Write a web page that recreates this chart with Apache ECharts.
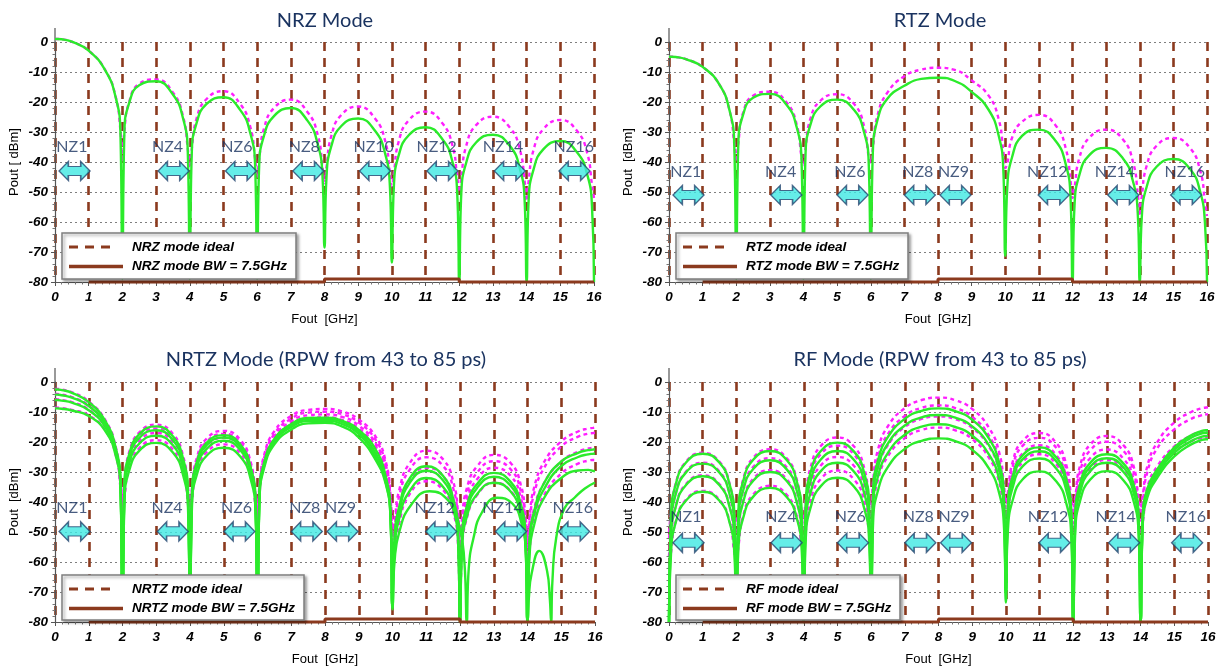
<!DOCTYPE html>
<html>
<head>
<meta charset="utf-8">
<script src="https://cdn.jsdelivr.net/npm/echarts/dist/echarts.min.js"></script>
<style>
html,body{margin:0;padding:0;background:#fff;}
#chart{width:1220px;height:671px;}
</style>
</head>
<body>
<div id="chart"></div>
<script>
// ---------------- DATA ----------------
// x sample positions (GHz)
const X1 = [0,0.06,0.2,0.5,1,1.5,1.8,1.94,
  2,2.06,2.2,2.5,3,3.5,3.8,3.94,
  4,4.06,4.2,4.5,5,5.5,5.8,5.94,
  6,6.06,6.2,6.5,7,7.5,7.8,7.94,
  8,8.06,8.2,8.5,9,9.5,9.8,9.94,
  10,10.06,10.2,10.5,11,11.5,11.8,11.94,
  12,12.06,12.2,12.5,13,13.5,13.8,13.94,
  14,14.06,14.2,14.5,15,15.5,15.8,15.94,
  16];
const X2 = [0,0.06,0.2,0.5,1,1.5,1.8,1.94,
  2,2.06,2.2,2.5,3,3.5,3.8,3.94,
  4,4.06,4.2,4.5,5,5.5,5.8,5.94,
  6,6.06,6.2,6.5,7,7.5,8,8.5,9,9.5,9.8,9.94,
  10,10.06,10.2,10.5,11,11.5,11.8,11.94,
  12,12.06,12.2,12.5,13,13.5,13.8,13.94,
  14,14.06,14.2,14.5,15,15.5,15.8,15.94,
  16];
const X3B = [0,0.06,0.2,0.5,1,1.5,1.8,1.94,
  2,2.06,2.2,2.5,3,3.5,3.8,3.94,
  4,4.06,4.2,4.5,5,5.5,5.8,5.94,
  6,6.06,6.2,6.5,7,7.5,8,8.5,9,9.5,9.8,9.94,
  10,10.06,10.2,10.55,11.1,11.65,11.98,12.13,
  12.2,12.26,12.4,12.65,13.1,13.55,13.82,13.95,
  14,14.04,14.12,14.35,14.58,14.66,
  14.7,14.74,14.85,15.1,15.4,15.7,16];

// NRZ mode (dBm)
const NRZ_IDEAL = [1.0,1.0,0.9,0.1,-2.9,-9.5,-18.2,-29.2,
  -40,-29.7,-20.0,-13.9,-12.5,-16.8,-24.7,-35.3,
  -42,-35.6,-25.6,-19.0,-16.4,-20.7,-28.4,-38.9,
  -45,-39.1,-29.0,-22.0,-19.2,-23.4,-31.0,-41.4,
  -47,-41.6,-31.4,-24.3,-21.5,-25.5,-32.9,-43.4,
  -48,-43.5,-33.3,-26.1,-23.2,-27.1,-34.6,-45.0,
  -50,-45.1,-34.9,-27.7,-24.9,-28.5,-35.9,-46.3,
  -53,-46.4,-36.2,-29.0,-26.0,-29.7,-37.1,-47.5,
  -52];
const NRZ_BW = [1.0,1.0,0.9,0.1,-2.9,-9.6,-18.4,-29.5,
  -79,-30.1,-20.4,-14.4,-13.1,-17.5,-25.4,-36.1,
  -79,-37.0,-27.1,-20.6,-18.4,-22.7,-30.5,-41.1,
  -79,-41.4,-31.4,-24.7,-22.0,-26.3,-34.1,-44.6,
  -68.5,-44.9,-34.8,-28.0,-25.5,-29.6,-37.2,-47.8,
  -73.5,-48.0,-37.9,-31.1,-28.4,-32.4,-40.0,-50.5,
  -80,-50.6,-40.5,-33.5,-30.9,-34.6,-42.2,-52.7,
  -80,-52.8,-42.7,-35.7,-33.0,-36.8,-44.2,-54.7,
  -80];

// RTZ mode
const RTZ_IDEAL = [-4.9,-4.9,-5.0,-5.7,-8.3,-14.2,-22.8,-33.8,
  -40,-33.8,-23.7,-17.9,-16.6,-20.2,-27.6,-38.2,
  -41,-35.5,-25.8,-19.6,-17.4,-20.6,-28.0,-38.3,
  -40.2,-35.5,-24.5,-16.8,-11.4,-9.2,-8.6,-9.3,-12.8,-17.8,-25.5,-36.0,
  -42,-40.5,-32.0,-26.6,-24.3,-27.8,-35.5,-46.0,
  -52,-48.5,-38.8,-31.9,-29.2,-32.5,-40.0,-50.5,
  -58,-51.5,-41.5,-34.6,-32.0,-35.4,-43.0,-53.0,
  -58];
const RTZ_BW = [-4.9,-4.9,-5.0,-5.7,-8.3,-14.2,-22.8,-33.8,
  -79,-34.5,-24.4,-18.6,-17.3,-21.0,-28.5,-39.2,
  -79,-37.5,-27.8,-21.5,-19.2,-22.6,-30.0,-40.5,
  -79,-37.5,-26.0,-18.8,-14.6,-12.3,-11.9,-13.0,-16.6,-22.5,-31.0,-42.0,
  -71.3,-48.5,-38.5,-31.3,-29.2,-33.0,-40.8,-51.5,
  -80,-54.5,-44.5,-37.7,-35.3,-38.8,-46.5,-57.0,
  -80,-58.5,-48.5,-41.6,-39.0,-42.4,-50.0,-60.5,
  -80];

// NRTZ mode (RPW 43..85 ps)
const NRTZ_IDEAL_1 = [-2.3,-2.3,-2.5,-3.4,-6.5,-12.9,-21.6,-32.5,
  -40,-33.2,-23.3,-16.8,-14.2,-17.4,-24.8,-35.3,
  -42,-35.2,-25.3,-18.8,-16.3,-19.4,-26.8,-37.3,
  -44,-34.5,-24.2,-16.4,-11.3,-9.3,-9.0,-9.8,-12.5,-18.2,-26.5,-37.5,
  -50,-46,-36,-27.2,-22.9,-25.8,-33.2,-43.5,
  -55,-45.5,-35.5,-28.2,-24.3,-27.0,-34.2,-44.5,
  -52,-45,-35,-26.5,-19.8,-16.5,-15.5,-15.3,
  -15.2];
const NRTZ_IDEAL_2 = [-4.0,-4.0,-4.2,-5.0,-7.8,-14.0,-22.6,-33.5,
  -42,-34.4,-24.5,-18.0,-15.5,-18.7,-26.1,-36.6,
  -44,-36.2,-26.3,-19.8,-17.3,-20.4,-27.8,-38.3,
  -46,-35.4,-25.1,-17.3,-12.2,-10.2,-9.9,-10.7,-13.5,-19.3,-27.5,-38.5,
  -52,-48,-38,-29.4,-25.1,-28.0,-35.4,-45.7,
  -58,-47.5,-37.5,-30.3,-26.4,-29.1,-36.3,-46.6,
  -55,-47,-37,-28.5,-21.5,-18.2,-17.2,-17.0,
  -16.9];
const NRTZ_IDEAL_3 = [-5.8,-5.8,-6.0,-6.7,-9.2,-15.0,-23.4,-34.3,
  -44,-36.0,-26.1,-19.6,-17.0,-20.2,-27.6,-38.1,
  -46,-37.5,-27.6,-21.1,-18.6,-21.7,-29.1,-39.6,
  -48,-36.3,-26.0,-18.2,-13.1,-11.1,-10.8,-11.6,-14.5,-20.5,-28.8,-40.0,
  -56,-52,-42,-33.0,-28.6,-31.4,-38.8,-49.0,
  -70,-50,-40,-32.5,-28.6,-31.3,-38.5,-49.0,
  -60,-52,-42,-33.5,-26.5,-23.2,-22.2,-22.0,
  -22.0];
const NRTZ_IDEAL_4 = [-8.6,-8.6,-8.7,-9.3,-11.1,-16.3,-24.4,-35.3,
  -45,-38.5,-28.6,-22.0,-19.4,-22.6,-30.0,-40.5,
  -48,-39.8,-29.8,-23.3,-20.8,-23.9,-31.3,-41.8,
  -50,-37.3,-27.0,-19.2,-14.1,-12.1,-11.8,-12.6,-15.5,-21.5,-29.8,-41.0,
  -60,-57,-47,-37.5,-33.1,-36.0,-43.5,-54.0,
  -80,-56,-45.5,-37.8,-33.6,-36.3,-43.5,-54.0,
  -65,-56,-46,-37.5,-30.5,-27.2,-26.2,-26.0,
  -26.0];
const NRTZ_BW_1 = [-2.5,-2.5,-2.7,-3.6,-6.7,-13.2,-22.0,-33.0,
  -79,-34.0,-24.0,-17.4,-14.8,-18.2,-25.8,-36.5,
  -79,-36.8,-26.8,-20.2,-17.7,-21.0,-28.5,-39.2,
  -79,-37.0,-26.8,-19.0,-14.0,-12.0,-11.9,-12.9,-16.0,-22.5,-31.5,-43.0,
  -75.8,-52.0,-41.5,-32.3,-28.1,-31.3,-39.0,-49.5,
  -80,-51.5,-41.5,-34.1,-30.3,-33.3,-40.7,-51.2,
  -80,-53.0,-43.0,-33.5,-26.5,-23.6,-22.7,-22.5,
  -22.4];
const NRTZ_BW_2 = [-4.2,-4.2,-4.4,-5.2,-8.0,-14.2,-22.8,-33.8,
  -79,-35.0,-25.1,-18.6,-16.1,-19.5,-27.0,-37.6,
  -79,-37.5,-27.5,-21.0,-18.5,-21.8,-29.3,-40.0,
  -79,-37.5,-27.3,-19.5,-14.5,-12.4,-12.3,-13.3,-16.6,-23.8,-32.5,-44.0,
  -75,-53.5,-43.0,-33.8,-29.6,-32.8,-40.5,-51.0,
  -80,-53.0,-43.0,-35.4,-31.6,-34.6,-42.0,-52.5,
  -80,-54.0,-44.0,-35.5,-28.0,-25.0,-24.1,-23.9,
  -23.8];
const NRTZ_BW_3 = [-6.0,-6.0,-6.2,-6.9,-9.4,-15.2,-23.6,-34.5,
  -79,-37.0,-27.0,-20.5,-17.9,-21.2,-28.8,-39.5,
  -79,-38.6,-28.6,-22.2,-19.6,-22.8,-30.3,-41.0,
  -79,-38.0,-27.8,-20.0,-15.0,-13.0,-12.9,-14.0,-17.4,-25.0,-33.5,-45.0,
  -75,-56,-45.5,-36.5,-32.0,-35.0,-42.5,-53,
  -80,-55,-45,-37.5,-33.6,-36.5,-44,-54.5,
  -80,-58,-47.5,-38.5,-32.0,-29.5,-29.3,-29.6,
  -29.8];
const NRTZ_BW_4 = [-8.8,-8.8,-8.9,-9.5,-11.3,-16.5,-24.6,-35.5,
  -79,-39.5,-29.5,-22.9,-20.3,-23.6,-31.2,-41.8,
  -79,-41.0,-31.0,-24.5,-21.9,-25.0,-32.5,-43.0,
  -79,-39.0,-28.5,-20.8,-15.8,-13.8,-13.6,-14.8,-18.5,-26.0,-34.0,-45.0,
  -75,-60,-50,-41,-36.4,-39.5,-48,-60,
  -80,-62,-52,-43.5,-38.6,-40.5,-47,-57,
  -80,-72,-64,-56.3,-63,-72,
  -80,-66,-52,-42,-38.5,-35.5,-33.5];

// RF mode (RPW 43..85 ps)
const RF_IDEAL_1 = [-50,-44.1,-33.8,-26.6,-23.6,-26.6,-33.9,-44.2,
  -47,-42.7,-32.5,-25.3,-22.4,-25.5,-32.8,-43.2,
  -46,-38.8,-28.6,-21.4,-18.5,-21.6,-28.9,-39.3,
  -42,-32.7,-22.7,-14.7,-8.7,-6.0,-5.2,-6.1,-9.0,-15.3,-23.4,-33.9,
  -40,-36.7,-26.7,-19.6,-17.0,-20.4,-27.9,-38.4,
  -42,-38.1,-28.0,-20.9,-18.0,-21.2,-28.4,-38.9,
  -42,-38,-28,-20,-13.5,-10.0,-8.8,-8.5,
  -8.4];
const RF_IDEAL_2 = [-52,-47.4,-37.1,-29.9,-26.9,-29.9,-37.2,-47.5,
  -50,-45.7,-35.5,-28.3,-25.4,-28.5,-35.8,-46.2,
  -49,-41.5,-31.3,-24.1,-21.2,-24.3,-31.6,-42.0,
  -45,-35.3,-25.3,-17.3,-11.3,-8.6,-7.8,-8.7,-11.6,-17.9,-26.0,-36.5,
  -42,-38.3,-28.3,-21.2,-18.6,-22.0,-29.5,-40.0,
  -44,-40.0,-29.9,-22.8,-19.9,-23.1,-30.3,-40.8,
  -44,-40,-30,-22,-15.8,-12.3,-11.1,-10.8,
  -10.7];
const RF_IDEAL_3 = [-58,-51.6,-41.3,-34.1,-31.1,-34.1,-41.4,-51.7,
  -55,-49.7,-39.5,-32.3,-29.4,-32.5,-39.8,-50.2,
  -53,-45.3,-35.1,-27.9,-25.0,-28.1,-35.4,-45.8,
  -50,-39.0,-29.0,-21.0,-15.0,-12.3,-11.5,-12.4,-15.3,-21.6,-29.7,-40.2,
  -45,-40.8,-30.8,-23.7,-21.1,-24.5,-32.0,-42.5,
  -47,-42.6,-32.5,-25.4,-22.5,-25.7,-32.9,-43.4,
  -47,-45,-35,-28,-21.5,-17.8,-16.6,-16.3,
  -16.2];
const RF_IDEAL_4 = [-62,-56.8,-46.5,-39.3,-36.3,-39.3,-46.6,-56.9,
  -60,-54.9,-44.7,-37.5,-34.6,-37.7,-45.0,-55.4,
  -58,-49.8,-39.6,-32.4,-29.5,-32.6,-39.9,-50.3,
  -54,-42.7,-32.7,-24.7,-18.7,-16.0,-15.2,-16.1,-19.0,-25.3,-33.4,-43.9,
  -48,-43.8,-33.8,-26.7,-24.1,-27.5,-35.0,-45.5,
  -50,-46.1,-36.0,-28.9,-26.0,-29.2,-36.4,-46.9,
  -50,-47,-37,-30.5,-23.5,-19.8,-18.6,-18.3,
  -18.2];
const RF_BW_1 = [-80,-44.4,-34.1,-26.9,-23.9,-26.9,-34.2,-44.5,
  -80,-43.3,-33.1,-25.9,-23.0,-26.1,-33.4,-43.8,
  -80,-40.5,-30.3,-23.1,-20.2,-23.3,-30.6,-41.0,
  -80,-36.3,-26.3,-18.3,-12.3,-9.6,-8.8,-9.7,-12.6,-18.9,-27.0,-37.5,
  -73.5,-41.5,-31.5,-24.4,-21.8,-25.2,-32.7,-43.2,
  -80,-44.2,-34.1,-27.0,-24.1,-27.3,-34.5,-45.0,
  -80,-45.5,-35.5,-29.0,-21.8,-17.8,-16.4,-16.1,
  -16.1];
const RF_BW_2 = [-80,-47.7,-37.4,-30.2,-27.2,-30.2,-37.5,-47.8,
  -80,-46.4,-36.2,-29.0,-26.1,-29.2,-36.5,-46.9,
  -80,-43.3,-33.1,-25.9,-23.0,-26.1,-33.4,-43.8,
  -80,-38.5,-28.5,-20.5,-14.5,-11.8,-11.0,-11.9,-14.8,-21.1,-29.2,-39.7,
  -70,-42.8,-32.8,-25.7,-23.1,-26.5,-34.0,-44.5,
  -80,-45.5,-35.4,-28.3,-25.4,-28.6,-35.8,-46.3,
  -80,-46.5,-36.5,-29.8,-22.6,-18.6,-17.2,-16.9,
  -16.9];
const RF_BW_3 = [-80,-51.9,-41.6,-34.4,-31.4,-34.4,-41.7,-52.0,
  -80,-50.3,-40.1,-32.9,-30.0,-33.1,-40.4,-50.8,
  -80,-47.2,-37.0,-29.8,-26.9,-30.0,-37.3,-47.7,
  -80,-41.6,-31.6,-23.6,-17.6,-14.9,-14.1,-15.0,-17.9,-24.2,-32.3,-42.8,
  -70,-45.2,-35.2,-28.1,-25.5,-28.9,-36.4,-46.9,
  -80,-47.0,-36.9,-29.8,-26.9,-30.1,-37.3,-47.8,
  -80,-47.5,-37.5,-30.8,-23.6,-19.7,-18.3,-18.0,
  -18.0];
const RF_BW_4 = [-80,-57.1,-46.8,-39.6,-36.6,-39.6,-46.9,-57.2,
  -80,-55.6,-45.4,-38.2,-35.3,-38.4,-45.7,-56.1,
  -80,-52.2,-42.0,-34.8,-31.9,-35.0,-42.3,-52.7,
  -80,-46.3,-36.3,-28.3,-22.3,-19.6,-18.8,-19.7,-22.6,-28.9,-37.0,-47.5,
  -70,-49.5,-39.5,-32.4,-29.8,-33.2,-40.7,-51.2,
  -80,-49.8,-39.7,-32.6,-29.7,-32.9,-40.1,-50.6,
  -80,-48.5,-38.5,-31.8,-24.8,-20.8,-19.4,-19.1,
  -19.1];

// BW = 7.5GHz floor trace
const BW_X = [1, 8, 8, 12, 12, 16];
const BW_Y = [-80, -80, -79, -79, -80, -80];

// Nyquist zone markers
const NZ_A = ['NZ1','NZ4','NZ6','NZ8','NZ10','NZ12','NZ14','NZ16'];
const NZ_A_TEXT_X = [0.5, 3.34, 5.4, 7.4, 9.46, 11.33, 13.3, 15.4];
const NZ_A_ARROW_X = [0.58, 3.52, 5.52, 7.52, 9.5, 11.5, 13.5, 15.42];
const NZ_B = ['NZ1','NZ4','NZ6','NZ8','NZ9','NZ12','NZ14','NZ16'];
const NZ_B_TEXT_X = [0.5, 3.32, 5.38, 7.4, 8.46, 11.25, 13.26, 15.34];
const NZ_B_ARROW_X = [0.58, 3.49, 5.46, 7.46, 8.52, 11.44, 13.51, 15.38];
const NZ_TEXT_Y = [-35, -43.3, -41.8, -44.8];
const NZ_ARROW_Y = [-43, -51, -49.8, -53.6];

const X_TICKS = [0,1,2,3,4,5,6,7,8,9,10,11,12,13,14,15,16];
const TITLES = ['NRZ Mode', 'RTZ Mode', 'NRTZ Mode (RPW from 43 to 85 ps)', 'RF Mode (RPW from 43 to 85 ps)'];
const Y_NAMES = ['Pout [ dBm]', 'Pout  [dBm]', 'Pout  [dBm]', 'Pout  [dBm]'];
const X_NAME = 'Fout  [GHz]';
const LEGEND_TEXT = [
  ['NRZ mode ideal', 'NRZ mode BW = 7.5GHz'],
  ['RTZ mode ideal', 'RTZ mode BW = 7.5GHz'],
  ['NRTZ mode ideal', 'NRTZ mode BW = 7.5GHz'],
  ['RF mode ideal', 'RF mode BW = 7.5GHz']
];

// ---------------- LAYOUT / STYLE ----------------
const GRIDS = [
  {left: 55, top: 42, width: 539, height: 240},
  {left: 669, top: 42, width: 538, height: 240},
  {left: 55, top: 382, width: 540, height: 240},
  {left: 669, top: 382, width: 539, height: 240}
];
const TITLE_POS = [[325, 21], [940, 21], [326, 360], [940, 360]];
const LEGEND_BOX = [
  {x: 62, y: 233, w: 234, h: 46},
  {x: 676, y: 233, w: 232, h: 46},
  {x: 62, y: 575, w: 242, h: 45},
  {x: 676, y: 575, w: 224, h: 45}
];
const BROWN = '#8B3A1E';
const GREEN = '#2BEB2B';
const MAGENTA = '#FF1EFF';
const NAVY = '#1A3360';
const ARROW = 'path://M0,10L9,0L9,5.2L21,5.2L21,0L30,10L21,20L21,14.8L9,14.8L9,20Z';
const TICKFONT = {fontFamily: '"Liberation Sans", Arial', fontStyle: 'italic', fontWeight: 'bold', fontSize: 13.5, color: '#000'};

function zip(xs, ys) {
  const out = [];
  for (let i = 0; i < xs.length; i++) out.push([xs[i], ys[i]]);
  return out;
}
function curve(gi, xs, ys, ideal) {
  return {
    type: 'line', xAxisIndex: gi, yAxisIndex: gi,
    data: zip(xs, ys), showSymbol: false, symbol: 'none',
    smooth: 0.5, clip: false, silent: true,
    z: ideal ? 3 : 4,
    lineStyle: ideal ? {color: MAGENTA, width: 2.4, type: [4, 3.5]} : {color: GREEN, width: 2.4}
  };
}
function bwTrace(gi) {
  return {type: 'line', xAxisIndex: gi, yAxisIndex: gi, data: zip(BW_X, BW_Y),
    showSymbol: false, symbol: 'none', clip: false, silent: true, z: 5,
    lineStyle: {color: BROWN, width: 3}};
}
function nzSeries(gi, names, tx, ax) {
  const arrows = ax.map((x) => [x, NZ_ARROW_Y[gi]]);
  const labels = names.map((n, i) => ({name: n, value: [tx[i], NZ_TEXT_Y[gi]]}));
  return [
    {type: 'scatter', xAxisIndex: gi, yAxisIndex: gi, data: arrows, symbol: ARROW,
      symbolSize: [31, 19], silent: true, z: 6,
      itemStyle: {color: '#3FE9E2', borderColor: '#24456F', borderWidth: 1.3}},
    {type: 'scatter', xAxisIndex: gi, yAxisIndex: gi, data: labels, symbolSize: 1, silent: true, z: 7,
      itemStyle: {color: 'rgba(0,0,0,0)'},
      label: {show: true, position: 'inside', formatter: '{b}', fontFamily: 'Lato', fontSize: 16, color: NAVY}}
  ];
}

const series = [];
// panel 1 NRZ
series.push(curve(0, X1, NRZ_IDEAL, true), curve(0, X1, NRZ_BW, false), bwTrace(0));
series.push(...nzSeries(0, NZ_A, NZ_A_TEXT_X, NZ_A_ARROW_X));
// panel 2 RTZ
series.push(curve(1, X2, RTZ_IDEAL, true), curve(1, X2, RTZ_BW, false), bwTrace(1));
series.push(...nzSeries(1, NZ_B, NZ_B_TEXT_X, NZ_B_ARROW_X));
// panel 3 NRTZ
[NRTZ_IDEAL_1, NRTZ_IDEAL_2, NRTZ_IDEAL_3, NRTZ_IDEAL_4].forEach(a => series.push(curve(2, X2, a, true)));
series.push(curve(2, X2, NRTZ_BW_1, false), curve(2, X2, NRTZ_BW_2, false), curve(2, X2, NRTZ_BW_3, false), curve(2, X3B, NRTZ_BW_4, false));
series.push(bwTrace(2));
series.push(...nzSeries(2, NZ_B, NZ_B_TEXT_X, NZ_B_ARROW_X));
// panel 4 RF
[RF_IDEAL_1, RF_IDEAL_2, RF_IDEAL_3, RF_IDEAL_4].forEach(a => series.push(curve(3, X2, a, true)));
[RF_BW_1, RF_BW_2, RF_BW_3, RF_BW_4].forEach(a => series.push(curve(3, X2, a, false)));
series.push(bwTrace(3));
series.push(...nzSeries(3, NZ_B, NZ_B_TEXT_X, NZ_B_ARROW_X));

const xAxes = GRIDS.map((g, i) => ({
  gridIndex: i, type: 'value', min: X_TICKS[0], max: X_TICKS[X_TICKS.length - 1], interval: 1,
  name: X_NAME, nameLocation: 'middle', nameGap: 31,
  nameTextStyle: {fontFamily: '"Liberation Sans", Arial', fontSize: 13, color: '#000'},
  axisLine: {onZero: false, lineStyle: {color: '#555', width: 1.2}},
  axisTick: {show: true, length: 4, lineStyle: {color: '#555'}},
  minorTick: {show: true, splitNumber: 5, length: 2.5, lineStyle: {color: '#777'}},
  axisLabel: Object.assign({margin: 8}, TICKFONT),
  splitLine: {show: true, lineStyle: {color: BROWN, type: [9, 7], width: 2.6}}
}));
const yAxes = GRIDS.map((g, i) => ({
  gridIndex: i, type: 'value', min: -80, max: 0, interval: 10,
  name: Y_NAMES[i], nameLocation: 'middle', nameGap: 34,
  nameTextStyle: {fontFamily: '"Liberation Sans", Arial', fontSize: 13, color: '#000'},
  axisLine: {show: true, onZero: false, lineStyle: {color: '#555', width: 1.2}},
  axisTick: {show: true, length: 4, lineStyle: {color: '#555'}},
  minorTick: {show: true, splitNumber: 5, length: 2.5, lineStyle: {color: '#777'}},
  axisLabel: Object.assign({margin: 7}, TICKFONT),
  splitLine: {show: true, lineStyle: {color: '#7f7f7f', type: [2, 3], width: 1}}
}));

const graphic = [];
TITLES.forEach((t, i) => {
  graphic.push({type: 'text', z: 100, style: {text: t, x: TITLE_POS[i][0], y: TITLE_POS[i][1],
    textAlign: 'center', textVerticalAlign: 'middle', font: '20px Lato', fill: NAVY}});
});
GRIDS.forEach((g) => {
  graphic.push({type: 'line', z: 1, shape: {x1: g.left, y1: g.top, x2: g.left, y2: g.top - 14},
    style: {stroke: '#555', lineWidth: 1.2}});
});
LEGEND_BOX.forEach((b, i) => {
  const lx = b.x + 7, ty1 = b.y + 14, ty2 = b.y + 33.5;
  graphic.push({type: 'rect', z: 100, shape: {x: b.x, y: b.y, width: b.w, height: b.h},
    style: {fill: '#fff', stroke: '#7f7f7f', lineWidth: 1.5, shadowBlur: 3, shadowOffsetX: 2, shadowOffsetY: 2, shadowColor: 'rgba(0,0,0,0.35)'}});
  graphic.push({type: 'line', z: 101, shape: {x1: lx, y1: ty1, x2: lx + 45, y2: ty1},
    style: {stroke: BROWN, lineWidth: 3, lineDash: [9, 7]}});
  graphic.push({type: 'line', z: 101, shape: {x1: lx, y1: ty2, x2: lx + 54, y2: ty2},
    style: {stroke: BROWN, lineWidth: 3.5}});
  graphic.push({type: 'text', z: 101, style: {text: LEGEND_TEXT[i][0], x: b.x + 70, y: ty1,
    textVerticalAlign: 'middle', font: 'italic bold 13.5px "Liberation Sans", Arial', fill: '#000'}});
  graphic.push({type: 'text', z: 101, style: {text: LEGEND_TEXT[i][1], x: b.x + 70, y: ty2,
    textVerticalAlign: 'middle', font: 'italic bold 13.5px "Liberation Sans", Arial', fill: '#000'}});
});

const chart = echarts.init(document.getElementById('chart'), null, {renderer: 'canvas'});
chart.setOption({
  animation: false,
  backgroundColor: '#fff',
  grid: GRIDS,
  xAxis: xAxes,
  yAxis: yAxes,
  series: series,
  graphic: graphic
});
</script>
</body>
</html>
